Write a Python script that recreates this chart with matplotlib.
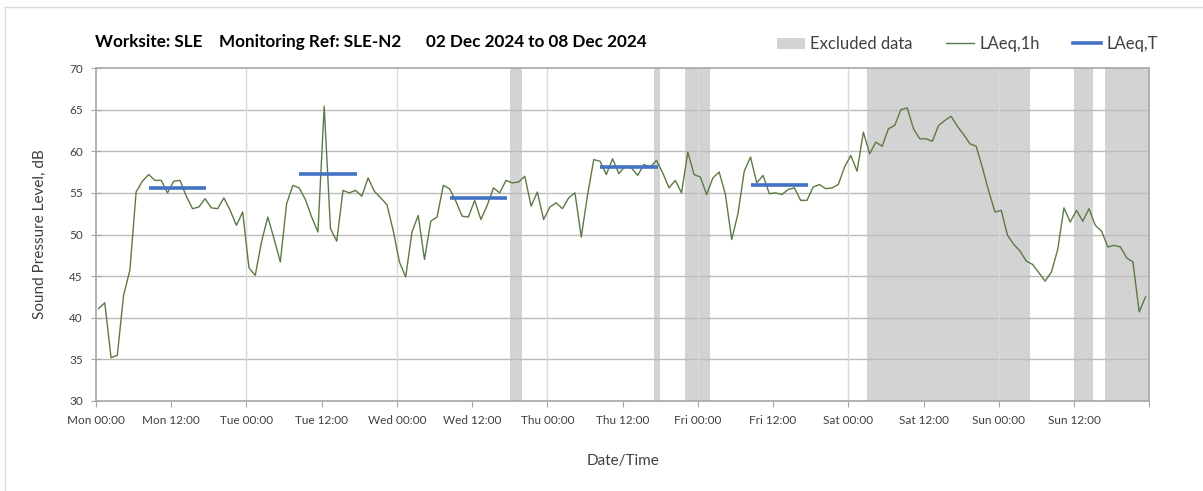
import numpy as np
import matplotlib
matplotlib.use('Agg')
import matplotlib.pyplot as plt
from matplotlib.patches import Patch
from matplotlib.lines import Line2D

plt.rcParams['font.family'] = ['Lato', 'DejaVu Sans']

# hourly LAeq,1h, Mon 00:00 .. Sun 23:00
laeq_1h = [
    41.1, 41.8, 35.2, 35.5, 42.7, 45.7, 55.1, 56.4, 57.2, 56.5, 56.5, 55.0,
    56.4, 56.5, 54.6, 53.1, 53.3, 54.3, 53.2, 53.1, 54.4, 52.9, 51.1, 52.7,
    46.0, 45.1, 49.1, 52.1, 49.5, 46.7, 53.7, 55.9, 55.6, 54.2, 52.1, 50.3,
    65.4, 50.7, 49.2, 55.3, 55.0, 55.3, 54.6, 56.8, 55.2, 54.4, 53.6, 50.5,
    46.7, 44.9, 50.3, 52.3, 47.0, 51.6, 52.1, 55.9, 55.5, 54.0, 52.2, 52.1,
    54.1, 51.8, 53.5, 55.6, 55.0, 56.5, 56.2, 56.3, 57.0, 53.4, 55.1, 51.8,
    53.3, 53.8, 53.1, 54.4, 55.0, 49.7, 54.7, 59.0, 58.8, 57.2, 59.1, 57.3,
    58.2, 58.0, 57.1, 58.4, 58.1, 58.9, 57.4, 55.6, 56.5, 55.0, 59.9, 57.2,
    56.9, 54.8, 56.8, 57.5, 54.8, 49.4, 52.5, 57.6, 59.3, 56.2, 57.1, 54.9,
    55.0, 54.8, 55.4, 55.6, 54.1, 54.1, 55.7, 56.0, 55.5, 55.6, 56.0, 58.1,
    59.5, 57.6, 62.3, 59.7, 61.1, 60.6, 62.7, 63.1, 65.0, 65.2, 62.7, 61.5,
    61.5, 61.2, 63.1, 63.7, 64.2, 63.0, 62.0, 60.9, 60.6, 58.0, 55.2, 52.7,
    52.9, 49.9, 48.8, 48.0, 46.8, 46.4, 45.4, 44.4, 45.5, 48.2, 53.2, 51.5,
    52.9, 51.6, 53.1, 51.1, 50.4, 48.5, 48.7, 48.5, 47.2, 46.7, 40.7, 42.5,
]

# daytime LAeq,T (start hour, end hour, level)
laeq_t_start = [8, 32, 56, 80, 104]
laeq_t_end = [17, 41, 65, 89, 113]
laeq_t_level = [55.6, 57.3, 54.4, 58.1, 56.0]

# excluded periods, hours from Mon 00:00
excl_start = [66, 89, 94, 123, 156, 161]
excl_end = [68, 90, 98, 149, 159, 168]

tick_labels = ['Mon 00:00', 'Mon 12:00', 'Tue 00:00', 'Tue 12:00', 'Wed 00:00',
               'Wed 12:00', 'Thu 00:00', 'Thu 12:00', 'Fri 00:00', 'Fri 12:00',
               'Sat 00:00', 'Sat 12:00', 'Sun 00:00', 'Sun 12:00', '']

OFFSET = 0.4  # points sit a little after the hour mark
LINE_COL = '#5b7a45'
BLUE = '#4472c4'
GREY = '#d3d3d3'
TXT = '#404040'

fig = plt.figure(figsize=(12.03, 4.91), dpi=100)
ax = fig.add_axes([0.0798, 0.1833, 0.8755, 0.6782])

t = np.arange(len(laeq_1h)) + OFFSET

for s, e in zip(excl_start, excl_end):
    ax.axvspan(s, e, color=GREY, lw=0, zorder=0)

# gridlines over the shaded areas, like the original
for y in range(35, 70, 5):
    ax.axhline(y, color='#bcbcbc', lw=1, zorder=1)
for x in range(24, 168, 24):
    ax.axvline(x, color='#d9d9d9', lw=1, zorder=1)

ax.plot(t, laeq_1h, color=LINE_COL, lw=1.0, zorder=3)
for s, e, v in zip(laeq_t_start, laeq_t_end, laeq_t_level):
    ax.plot([s + OFFSET, e + OFFSET + 0.2], [v, v], color=BLUE, lw=2.6,
            solid_capstyle='butt', zorder=4)

ax.set_xlim(0, 168)
ax.set_ylim(30, 70)
ax.set_xticks(range(0, 169, 12))
ax.set_xticklabels(tick_labels)
ax.set_yticks(range(30, 71, 5))
ax.tick_params(axis='x', direction='out', length=4, color='#a6a6a6',
               labelsize=8.5, labelcolor=TXT, pad=6)
ax.tick_params(axis='y', direction='inout', length=7, color='#a6a6a6',
               labelsize=8.5, labelcolor=TXT, pad=6)
for sp in ax.spines.values():
    sp.set_color('#a6a6a6')
    sp.set_linewidth(1.2)

ax.set_ylabel('Sound Pressure Level, dB', fontsize=11, color=TXT, labelpad=16)
ax.set_xlabel('Date/Time', fontsize=11, color=TXT, labelpad=20)

fig.text(0.079, 0.915, 'Worksite: SLE    Monitoring Ref: SLE-N2      02 Dec 2024 to 08 Dec 2024',
         fontsize=12.3, fontweight='bold', color='black', va='center')

handles = [Patch(facecolor=GREY, edgecolor='none'),
           Line2D([], [], color=LINE_COL, lw=1.0),
           Line2D([], [], color=BLUE, lw=2.6)]
fig.legend(handles, ['Excluded data', 'LAeq,1h', 'LAeq,T'], loc='center right',
           bbox_to_anchor=(0.975, 0.91), ncol=3, frameon=False, fontsize=12,
           handlelength=1.7, handletextpad=0.3, columnspacing=2.0,
           labelcolor=TXT)

# outer chart frame (only top/left visible in the original crop)
fig.add_artist(Line2D([0.0045, 0.0045], [0, 0.986], transform=fig.transFigure,
                      color='#d9d9d9', lw=1))
fig.add_artist(Line2D([0.0045, 1], [0.986, 0.986], transform=fig.transFigure,
                      color='#d9d9d9', lw=1))

fig.savefig('out.png', dpi=100, facecolor='white')
